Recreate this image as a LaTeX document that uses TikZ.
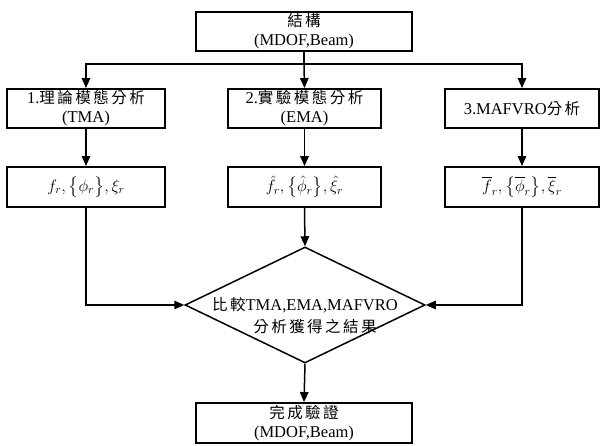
\RequirePackage{fix-cm}
\documentclass[tikz,border=0pt]{standalone}
\usepackage{amsmath}
\usepackage{fontspec}
\setmainfont{Liberation Serif}
\newfontfamily\cjkfont{Noto Sans CJK TC}[LetterSpace=16]
\newcommand{\zhtxt}[1]{{\cjkfont\fontsize{15.5}{19}\selectfont #1}}
\usetikzlibrary{arrows.meta,shapes.geometric}
\begin{document}
\begin{tikzpicture}[x=1pt,y=-1pt,
  boxnode/.style={draw,line width=1.9pt,rectangle,inner sep=0pt,align=center,
    font=\fontsize{16.5}{19}\selectfont},
  conn/.style={line width=1.5pt},
  arr/.style={conn,-{Triangle[length=10pt,width=8.5pt]}}]
\useasboundingbox (0,0) rectangle (600,446);
% boxes
\node[boxnode,minimum width=216pt,minimum height=39pt] (top) at (304,31.5) {\zhtxt{結構}\\(MDOF,Beam)};
\node[boxnode,minimum width=158pt,minimum height=39pt] (t1) at (86,108.5) {1.\zhtxt{理論模態分析}\\(TMA)};
\node[boxnode,minimum width=153pt,minimum height=39pt] (t2) at (304.5,108.5) {2.\zhtxt{實驗模態分析}\\(EMA)};
\node[boxnode,minimum width=154pt,minimum height=39pt] (t3) at (522,108.5) {3.MAFVRO\zhtxt{分析}};
\node[boxnode,minimum width=158pt,minimum height=40pt] (r1) at (86,187) {$f_r,\bigl\{\phi_r\bigr\},\xi_r$};
\node[boxnode,minimum width=153pt,minimum height=40pt] (r2) at (304.5,187) {$\hat{f}_r,\bigl\{\hat{\phi}_r\bigr\},\hat{\xi}_r$};
\node[boxnode,minimum width=154pt,minimum height=40pt] (r3) at (522,187) {$\overline{f}_r,\bigl\{\overline{\phi}_r\bigr\},\overline{\xi}_r$};
\node[draw,line width=1.5pt,diamond,inner sep=0pt,minimum width=240pt,minimum height=116pt] (cmp) at (305,305) {};
\node[inner sep=0pt,font=\fontsize{16.5}{19}\selectfont] (cmpa) at (305,305) {\zhtxt{比較}TMA,EMA,MAFVRO};
\node[inner sep=0pt,font=\fontsize{16.5}{19}\selectfont] (cmpb) at (315,327) {\zhtxt{分析獲得之結果}};
\node[boxnode,minimum width=216pt,minimum height=40pt] (bot) at (304,423) {\zhtxt{完成驗證}\\(MDOF,Beam)};
% connectors
\coordinate (split) at (304,64);
\draw[conn] (top.south) -- (split);
\draw[arr] (split) -| (t1.north);
\draw[arr] (split) -| (t3.north);
\draw[arr] (split) -- (t2.north);
\draw[arr] (t1.south) -- (r1.north);
\draw[arr] (t2.south) -- (r2.north);
\draw[arr] (t3.south) -- (r3.north);
\draw[arr] (r1.south) |- (cmp.west);
\draw[arr] (r3.south) |- (cmp.east);
\draw[arr] (r2.south) -- (cmp.north);
\draw[arr] (cmp.south) -- (bot.north);
\end{tikzpicture}
\end{document}
